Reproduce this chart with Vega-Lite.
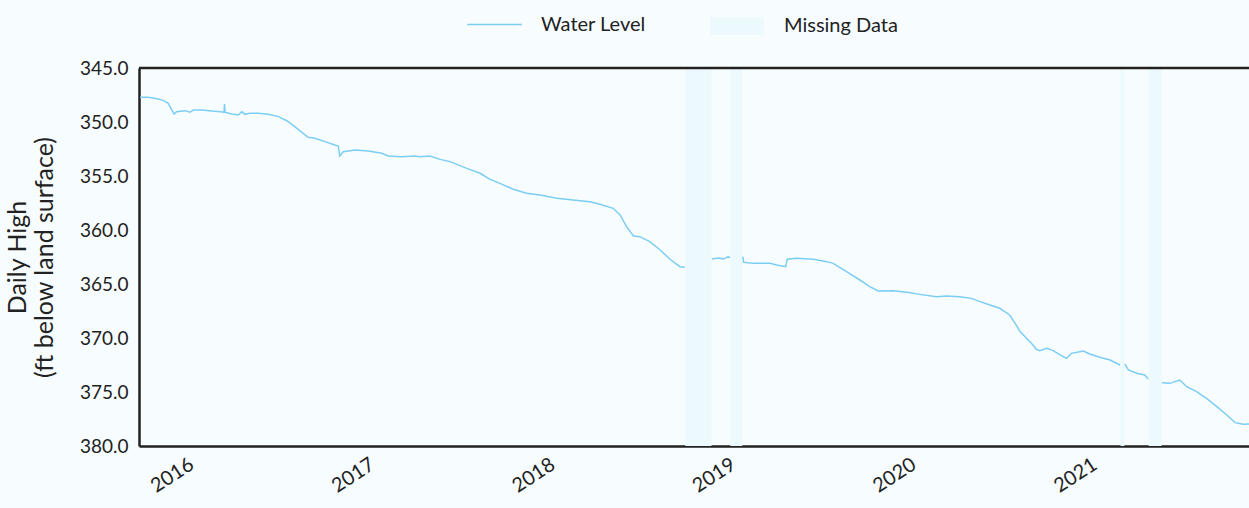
{
  "$schema": "https://vega.github.io/schema/vega-lite/v6.json",
  "width": 1110,
  "height": 378,
  "autosize": {"type": "none"},
  "padding": {"left": 139, "top": 68, "right": 0, "bottom": 62},
  "background": "#f7fdfe",
  "config": {
    "view": {"stroke": null},
    "font": "Lato",
    "axis": {"grid": false, "ticks": false, "domainColor": "#222", "domainWidth": 2.5, "labelFont": "Lato", "labelFontSize": 19, "labelColor": "#222", "titleColor": "#222", "titleFont": "Lato"},
    "legend": {"labelFont": "Lato", "labelFontSize": 20, "labelColor": "#222"}
  },
  "datasets": {
    "level": [
      {"date": "2015-09-22", "level": 347.71, "seg": "a"},
      {"date": "2015-10-09", "level": 347.70, "seg": "a"},
      {"date": "2015-10-29", "level": 347.87, "seg": "a"},
      {"date": "2015-11-08", "level": 348.00, "seg": "a"},
      {"date": "2015-11-18", "level": 348.27, "seg": "a"},
      {"date": "2015-11-30", "level": 349.26, "seg": "a"},
      {"date": "2015-12-05", "level": 349.04, "seg": "a"},
      {"date": "2015-12-22", "level": 348.95, "seg": "a"},
      {"date": "2016-01-01", "level": 349.10, "seg": "a"},
      {"date": "2016-01-08", "level": 348.90, "seg": "a"},
      {"date": "2016-01-25", "level": 348.90, "seg": "a"},
      {"date": "2016-02-14", "level": 348.98, "seg": "a"},
      {"date": "2016-03-02", "level": 349.04, "seg": "a"},
      {"date": "2016-03-10", "level": 349.10, "seg": "a"},
      {"date": "2016-03-11", "level": 348.33, "seg": "a"},
      {"date": "2016-03-12", "level": 349.10, "seg": "a"},
      {"date": "2016-03-25", "level": 349.26, "seg": "a"},
      {"date": "2016-04-08", "level": 349.35, "seg": "a"},
      {"date": "2016-04-15", "level": 349.04, "seg": "a"},
      {"date": "2016-04-21", "level": 349.29, "seg": "a"},
      {"date": "2016-05-01", "level": 349.20, "seg": "a"},
      {"date": "2016-05-18", "level": 349.20, "seg": "a"},
      {"date": "2016-06-07", "level": 349.29, "seg": "a"},
      {"date": "2016-06-28", "level": 349.50, "seg": "a"},
      {"date": "2016-07-15", "level": 349.88, "seg": "a"},
      {"date": "2016-07-31", "level": 350.43, "seg": "a"},
      {"date": "2016-08-17", "level": 351.05, "seg": "a"},
      {"date": "2016-08-27", "level": 351.42, "seg": "a"},
      {"date": "2016-09-10", "level": 351.51, "seg": "a"},
      {"date": "2016-09-30", "level": 351.82, "seg": "a"},
      {"date": "2016-10-20", "level": 352.13, "seg": "a"},
      {"date": "2016-10-27", "level": 352.22, "seg": "a"},
      {"date": "2016-10-30", "level": 353.15, "seg": "a"},
      {"date": "2016-11-06", "level": 352.75, "seg": "a"},
      {"date": "2016-11-30", "level": 352.59, "seg": "a"},
      {"date": "2016-12-27", "level": 352.69, "seg": "a"},
      {"date": "2017-01-23", "level": 352.90, "seg": "a"},
      {"date": "2017-02-05", "level": 353.15, "seg": "a"},
      {"date": "2017-03-04", "level": 353.21, "seg": "a"},
      {"date": "2017-03-31", "level": 353.15, "seg": "a"},
      {"date": "2017-04-10", "level": 353.21, "seg": "a"},
      {"date": "2017-04-30", "level": 353.15, "seg": "a"},
      {"date": "2017-05-21", "level": 353.46, "seg": "a"},
      {"date": "2017-06-10", "level": 353.67, "seg": "a"},
      {"date": "2017-07-14", "level": 354.29, "seg": "a"},
      {"date": "2017-08-10", "level": 354.75, "seg": "a"},
      {"date": "2017-08-30", "level": 355.31, "seg": "a"},
      {"date": "2017-09-19", "level": 355.68, "seg": "a"},
      {"date": "2017-10-16", "level": 356.23, "seg": "a"},
      {"date": "2017-11-12", "level": 356.60, "seg": "a"},
      {"date": "2017-12-09", "level": 356.76, "seg": "a"},
      {"date": "2018-01-12", "level": 357.07, "seg": "a"},
      {"date": "2018-02-14", "level": 357.22, "seg": "a"},
      {"date": "2018-03-20", "level": 357.38, "seg": "a"},
      {"date": "2018-04-09", "level": 357.62, "seg": "a"},
      {"date": "2018-05-06", "level": 357.99, "seg": "a"},
      {"date": "2018-05-20", "level": 358.61, "seg": "a"},
      {"date": "2018-06-02", "level": 359.69, "seg": "a"},
      {"date": "2018-06-16", "level": 360.56, "seg": "a"},
      {"date": "2018-06-29", "level": 360.62, "seg": "a"},
      {"date": "2018-07-19", "level": 361.08, "seg": "a"},
      {"date": "2018-08-09", "level": 361.85, "seg": "a"},
      {"date": "2018-08-29", "level": 362.71, "seg": "a"},
      {"date": "2018-09-18", "level": 363.40, "seg": "a"},
      {"date": "2018-09-28", "level": 363.46, "seg": "a"},
      {"date": "2018-11-22", "level": 362.69, "seg": "b"},
      {"date": "2018-12-05", "level": 362.60, "seg": "b"},
      {"date": "2018-12-15", "level": 362.69, "seg": "b"},
      {"date": "2018-12-25", "level": 362.47, "seg": "b"},
      {"date": "2018-12-28", "level": 362.60, "seg": "b"},
      {"date": "2019-01-23", "level": 362.47, "seg": "c"},
      {"date": "2019-01-25", "level": 362.99, "seg": "c"},
      {"date": "2019-02-13", "level": 363.09, "seg": "c"},
      {"date": "2019-03-06", "level": 363.09, "seg": "c"},
      {"date": "2019-03-19", "level": 363.09, "seg": "c"},
      {"date": "2019-04-02", "level": 363.24, "seg": "c"},
      {"date": "2019-04-20", "level": 363.40, "seg": "c"},
      {"date": "2019-04-23", "level": 362.71, "seg": "c"},
      {"date": "2019-05-12", "level": 362.62, "seg": "c"},
      {"date": "2019-06-15", "level": 362.71, "seg": "c"},
      {"date": "2019-07-12", "level": 362.93, "seg": "c"},
      {"date": "2019-07-25", "level": 363.09, "seg": "c"},
      {"date": "2019-08-21", "level": 363.86, "seg": "c"},
      {"date": "2019-09-17", "level": 364.63, "seg": "c"},
      {"date": "2019-10-07", "level": 365.25, "seg": "c"},
      {"date": "2019-10-24", "level": 365.65, "seg": "c"},
      {"date": "2019-11-23", "level": 365.62, "seg": "c"},
      {"date": "2019-12-21", "level": 365.77, "seg": "c"},
      {"date": "2020-01-16", "level": 365.96, "seg": "c"},
      {"date": "2020-02-19", "level": 366.18, "seg": "c"},
      {"date": "2020-03-10", "level": 366.10, "seg": "c"},
      {"date": "2020-04-06", "level": 366.18, "seg": "c"},
      {"date": "2020-04-30", "level": 366.33, "seg": "c"},
      {"date": "2020-05-17", "level": 366.63, "seg": "c"},
      {"date": "2020-06-06", "level": 366.94, "seg": "c"},
      {"date": "2020-06-26", "level": 367.25, "seg": "c"},
      {"date": "2020-07-16", "level": 367.87, "seg": "c"},
      {"date": "2020-07-27", "level": 368.64, "seg": "c"},
      {"date": "2020-08-06", "level": 369.41, "seg": "c"},
      {"date": "2020-08-19", "level": 370.03, "seg": "c"},
      {"date": "2020-08-29", "level": 370.49, "seg": "c"},
      {"date": "2020-09-08", "level": 371.05, "seg": "c"},
      {"date": "2020-09-15", "level": 371.17, "seg": "c"},
      {"date": "2020-09-29", "level": 370.96, "seg": "c"},
      {"date": "2020-10-12", "level": 371.17, "seg": "c"},
      {"date": "2020-10-26", "level": 371.57, "seg": "c"},
      {"date": "2020-11-08", "level": 371.88, "seg": "c"},
      {"date": "2020-11-18", "level": 371.42, "seg": "c"},
      {"date": "2020-12-12", "level": 371.20, "seg": "c"},
      {"date": "2020-12-25", "level": 371.48, "seg": "c"},
      {"date": "2021-01-14", "level": 371.79, "seg": "c"},
      {"date": "2021-02-04", "level": 372.04, "seg": "c"},
      {"date": "2021-02-24", "level": 372.50, "seg": "c"},
      {"date": "2021-03-06", "level": 372.41, "seg": "d"},
      {"date": "2021-03-13", "level": 372.96, "seg": "d"},
      {"date": "2021-03-30", "level": 373.27, "seg": "d"},
      {"date": "2021-04-15", "level": 373.43, "seg": "d"},
      {"date": "2021-04-22", "level": 373.80, "seg": "d"},
      {"date": "2021-05-20", "level": 374.14, "seg": "e"},
      {"date": "2021-06-05", "level": 374.20, "seg": "e"},
      {"date": "2021-06-25", "level": 373.89, "seg": "e"},
      {"date": "2021-07-09", "level": 374.51, "seg": "e"},
      {"date": "2021-07-29", "level": 374.97, "seg": "e"},
      {"date": "2021-08-18", "level": 375.59, "seg": "e"},
      {"date": "2021-09-08", "level": 376.36, "seg": "e"},
      {"date": "2021-09-28", "level": 377.13, "seg": "e"},
      {"date": "2021-10-15", "level": 377.84, "seg": "e"},
      {"date": "2021-10-31", "level": 377.99, "seg": "e"},
      {"date": "2021-11-12", "level": 377.96, "seg": "e"}
    ],
    "missing": [
      {"start": "2018-09-29", "end": "2018-11-21"},
      {"start": "2018-12-29", "end": "2019-01-22"},
      {"start": "2021-02-25", "end": "2021-03-05"},
      {"start": "2021-04-23", "end": "2021-05-19"}
    ]
  },
  "layer": [
    {
      "data": {"name": "missing"},
      "mark": {"type": "rect"},
      "encoding": {
        "x": {"field": "start", "type": "temporal", "scale": {"domain": [{"year": 2015, "month": 9, "date": 20}, {"year": 2021, "month": 11, "date": 12}]}, "axis": {"title": null, "format": "%Y", "tickCount": {"interval": "year", "step": 1}, "labelAngle": -33, "labelAlign": "right", "labelBaseline": "top", "labelPadding": 8, "labelFontSize": 20, "labelOffset": -4}},
        "x2": {"field": "end"},
        "fill": {"datum": "Missing Data", "type": "nominal", "scale": {"range": ["#ecfafe"]}, "legend": {"title": null, "orient": "none", "legendX": 580, "legendY": -60, "symbolType": "M-1.5,-0.5H1.5V0.5H-1.5Z", "symbolSize": 1296, "symbolStrokeWidth": 0, "labelOffset": 29}}
      }
    },
    {
      "data": {"name": "level"},
      "mark": {"type": "line", "strokeWidth": 1.5},
      "encoding": {
        "x": {"field": "date", "type": "temporal"},
        "y": {"field": "level", "type": "quantitative", "scale": {"domain": [345, 380], "reverse": true, "nice": false, "zero": false}, "axis": {"values": [345, 350, 355, 360, 365, 370, 375, 380], "format": ".1f", "title": ["Daily High", "(ft below land surface)"], "titleFontSize": 25, "titleFontWeight": "normal", "titleLineHeight": 27, "titlePadding": 22, "labelPadding": 11}},
        "detail": {"field": "seg"},
        "stroke": {"datum": "Water Level", "type": "nominal", "scale": {"range": ["#7ccdf5"]}, "legend": {"title": null, "orient": "none", "legendX": 327, "legendY": -72, "symbolType": "stroke", "symbolSize": 3000, "symbolStrokeWidth": 1.5, "labelOffset": 18}}
      }
    },
    {
      "data": {"values": [{}]},
      "mark": {"type": "rule", "stroke": "#222", "strokeWidth": 2.5},
      "encoding": {"y": {"datum": 345}}
    }
  ]
}
